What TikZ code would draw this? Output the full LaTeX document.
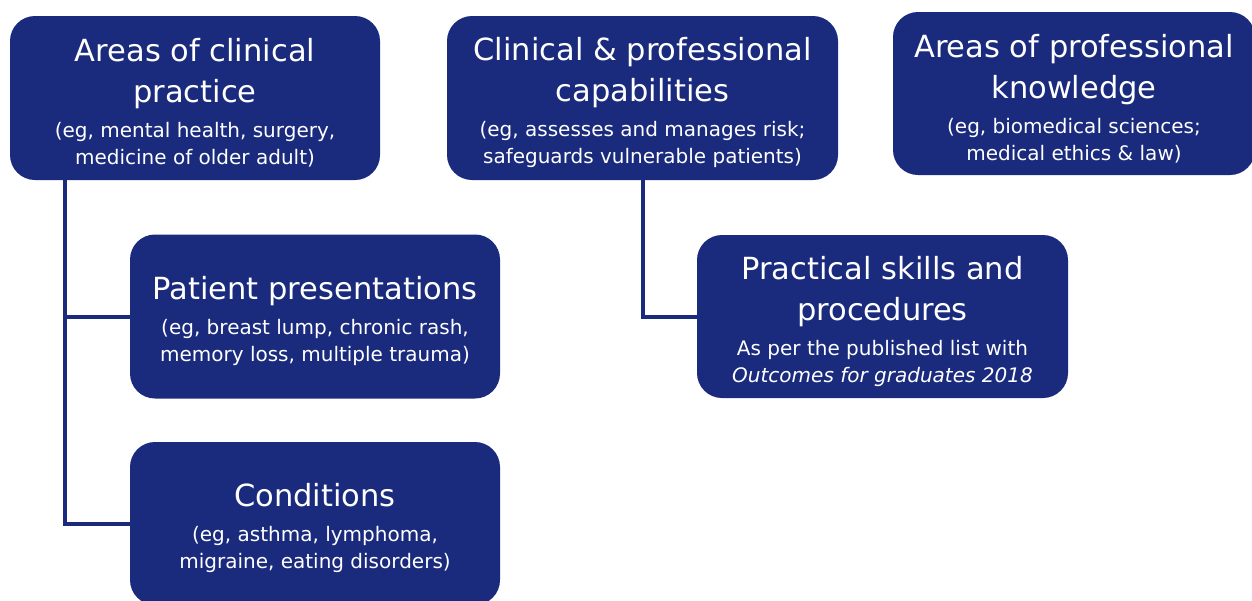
\documentclass[tikz,border=0pt]{standalone}
\usepackage{fontspec}
\setmainfont{DejaVu Sans}
\definecolor{navy}{HTML}{1A2A7C}
\newcommand\ttlfont{\fontsize{30.5}{41}\selectfont\spaceskip=.318em\xspaceskip=.318em\relax}
\newcommand\subfont{\fontsize{20}{27}\selectfont\spaceskip=.318em\xspaceskip=.318em\relax}
\newcommand\bx[2]{{\ttlfont\rule{0pt}{33pt}#1\par}\vspace{8pt}{\subfont #2\par}}
\tikzset{
  box/.style={fill=navy, rounded corners=25pt, text=white, align=center,
    inner sep=0pt, minimum width=370pt, minimum height=164pt, text width=350pt},
  conn/.style={draw=navy, line width=4pt}
}
\begin{document}
\begin{tikzpicture}[x=1pt,y=-1pt]
\useasboundingbox (0,0) rectangle (1252,600);
\clip (0,0) rectangle (1252,600);
\node[box] (a) at (195,98) {\bx{Areas of clinical\\practice}{(eg, mental health, surgery,\\medicine of older adult)}};
\node[box, minimum width=391pt, text width=380pt] (b) at (642.5,98) {\bx{Clinical \& professional\\capabilities}{(eg, assesses and manages risk;\\safeguards vulnerable patients)}};
\node[box, minimum width=362pt, minimum height=163pt, text width=350pt] (k) at (1074,93.5) {\bx{Areas of professional\\knowledge}{(eg, biomedical sciences;\\medical ethics \& law)}};
\node[box] (p) at (315,316.5) {\bx{Patient presentations}{(eg, breast lump, chronic rash,\\memory loss, multiple trauma)}};
\node[box, minimum width=371pt, minimum height=163pt] (s) at (882.5,316.5) {\bx{Practical skills and\\procedures}{As per the published list with\\\textit{Outcomes for graduates 2018}}};
\node[box, minimum height=163pt] (c) at (315,523.5) {\bx{Conditions}{(eg, asthma, lymphoma,\\migraine, eating disorders)}};
\draw[conn] ([xshift=55pt]a.south west) |- (p.west);
\draw[conn] ([xshift=55pt]a.south west) |- (c.west);
\draw[conn] (b.south) |- (s.west);
\end{tikzpicture}
\end{document}
